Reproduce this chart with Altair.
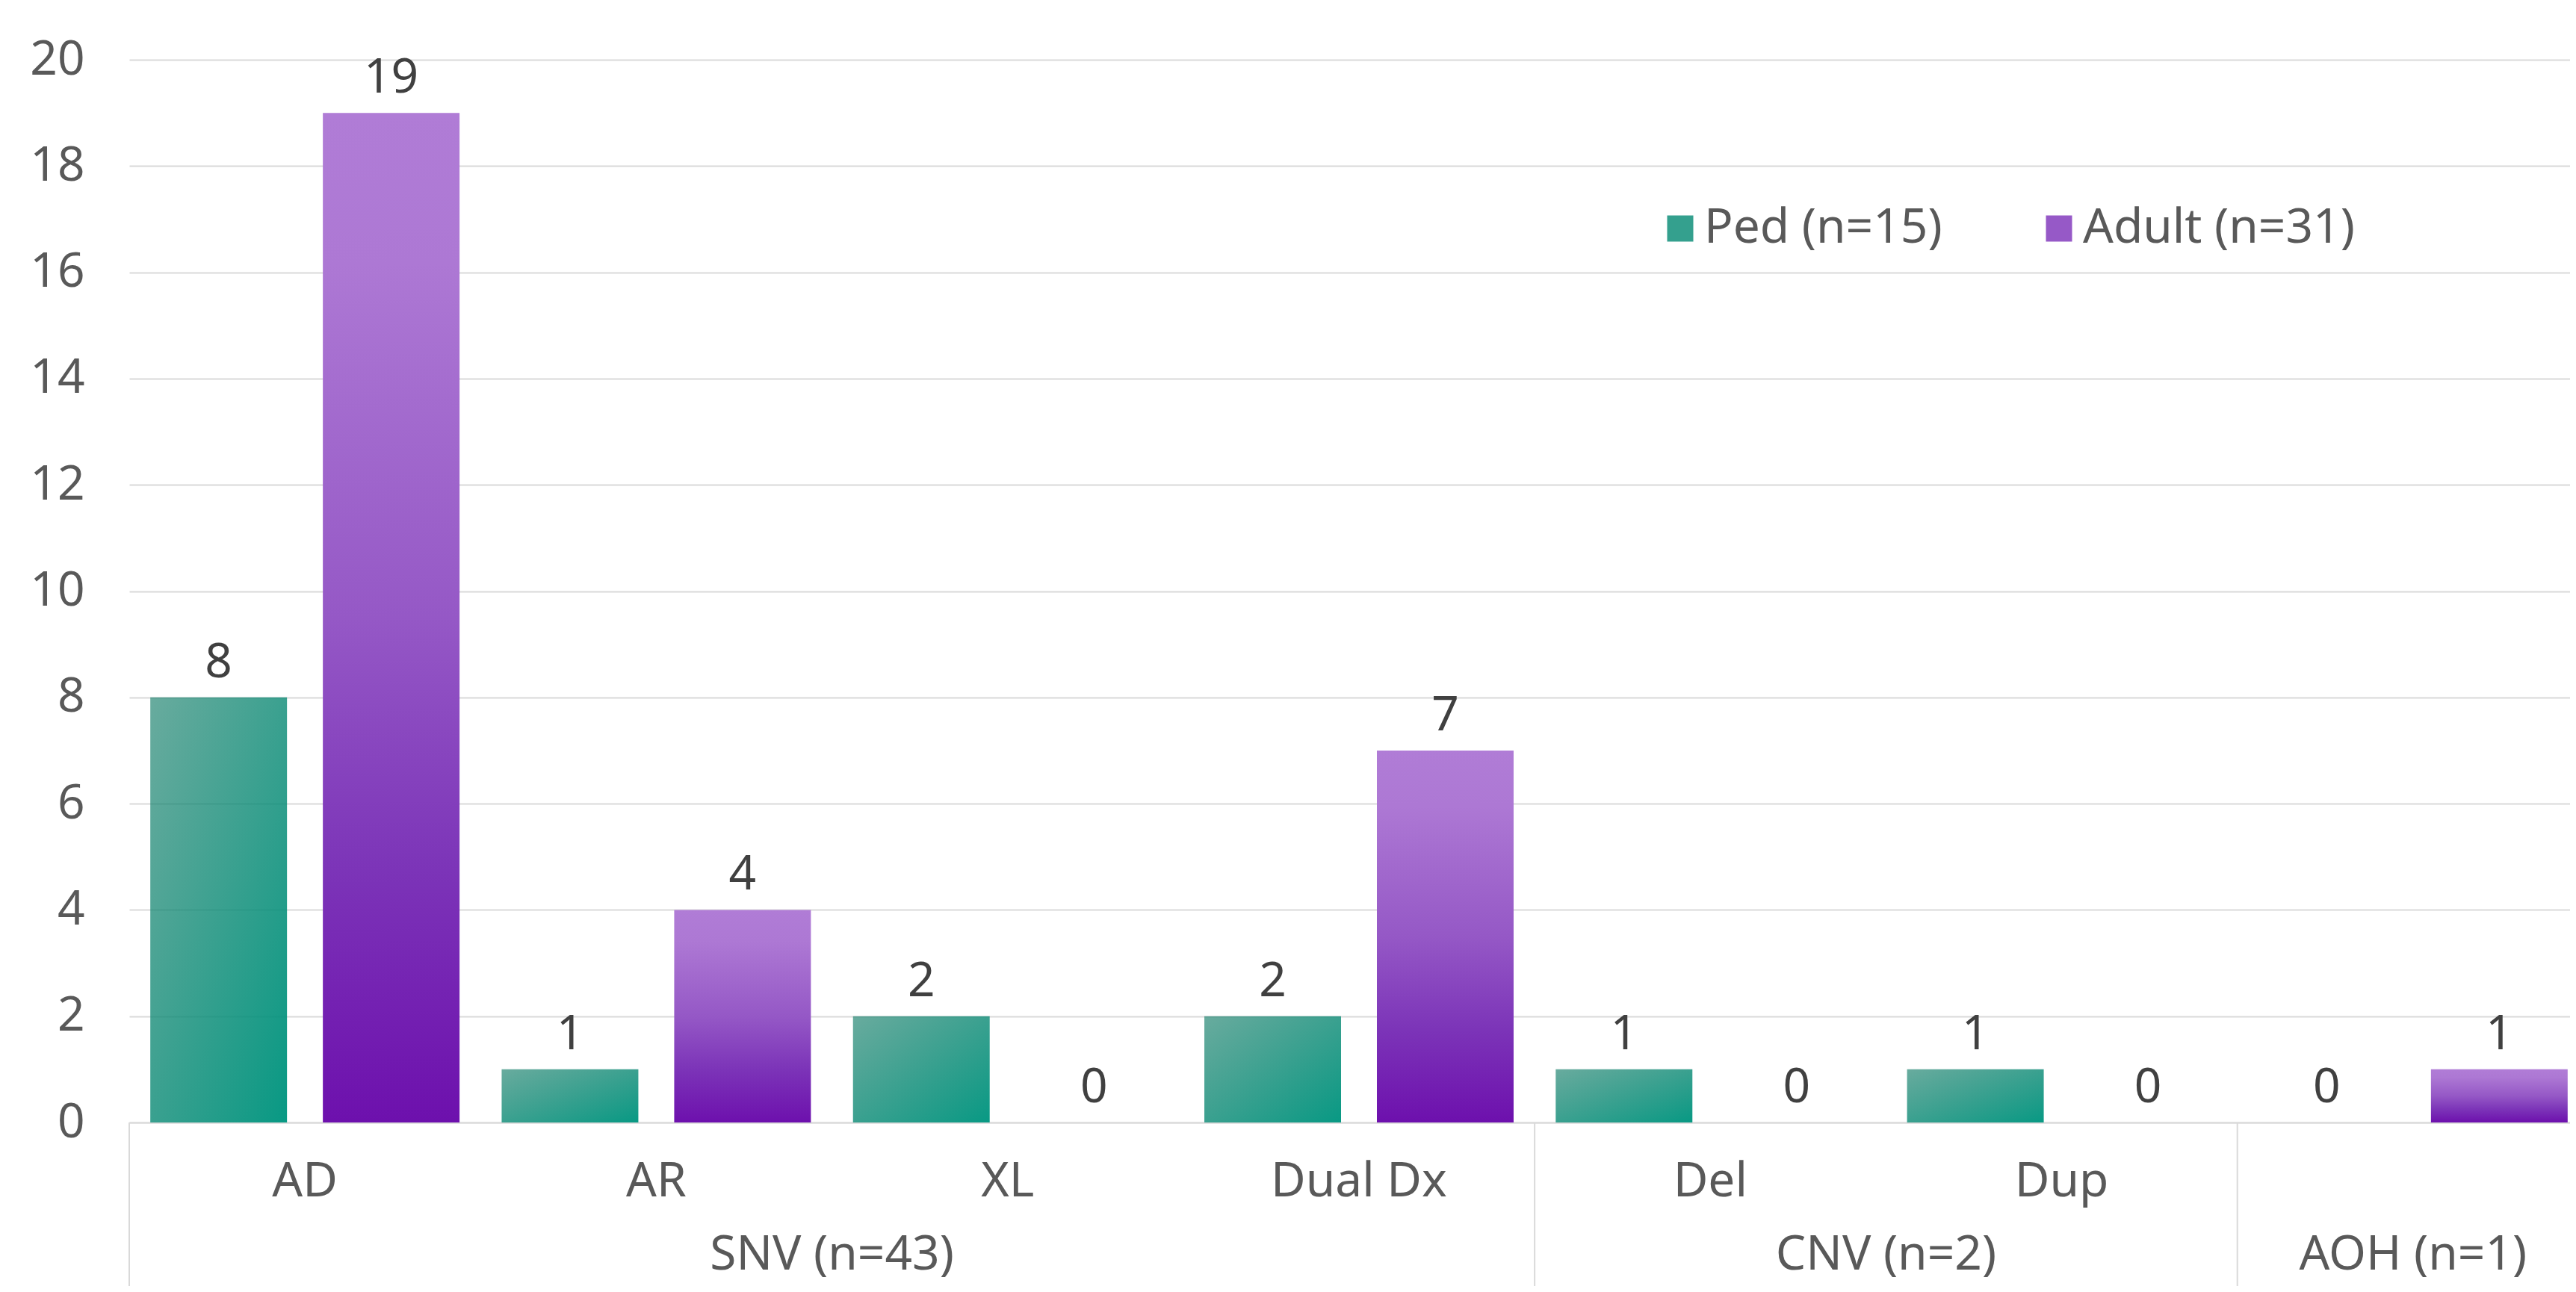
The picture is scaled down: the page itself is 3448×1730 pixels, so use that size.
import altair as alt
import pandas as pd

# ---------------- data ----------------
categories = ["AD", "AR", "XL", "Dual Dx", "Del", "Dup", "AOH"]
ped_values = [8, 1, 2, 2, 1, 1, 0]
adult_values = [19, 4, 0, 7, 0, 0, 1]
series_names = ["Ped (n=15)", "Adult (n=31)"]
group_names = ["SNV (n=43)", "CNV (n=2)", "AOH (n=1)"]
group_members = [["AD", "AR", "XL", "Dual Dx"], ["Del", "Dup"], ["AOH"]]
blank_label_categories = ["AOH"]
y_ticks = [0, 2, 4, 6, 8, 10, 12, 14, 16, 18, 20]

rows = []
for c, p, a in zip(categories, ped_values, adult_values):
    rows.append({"cat": c, "series": series_names[0], "value": p})
    rows.append({"cat": c, "series": series_names[1], "value": a})
df = pd.DataFrame(rows)

even_groups = pd.DataFrame([
    {"cat": m[len(m) // 2 - 1], "label": g}
    for g, m in zip(group_names, group_members) if len(m) % 2 == 0
])
odd_groups = pd.DataFrame([
    {"cat": m[len(m) // 2], "label": g}
    for g, m in zip(group_names, group_members) if len(m) % 2 == 1
])
separators = pd.DataFrame([{"cat": m[0]} for m in group_members])

# ---------------- style ----------------
FONT = "Noto Sans"
AXIS_GREY = "#595959"
LABEL_DARK = "#404040"
LINE_GREY = "#d9d9d9"
FS = 64

PLOT_W = 3267
PLOT_H = 1423
BAND_RANGE = 3292

teal_grad = alt.Gradient(
    gradient="linear", x1=0, y1=0, x2=1, y2=1,
    stops=[alt.GradientStop(color="rgba(26,128,108,0.66)", offset=0),
           alt.GradientStop(color="rgba(0,150,128,0.97)", offset=1)],
)
purple_grad = alt.Gradient(
    gradient="linear", x1=0, y1=0, x2=0, y2=1,
    stops=[alt.GradientStop(color="#b07cd6", offset=0),
           alt.GradientStop(color="#ad78d4", offset=0.15),
           alt.GradientStop(color="#9558c6", offset=0.5),
           alt.GradientStop(color="#7c34b8", offset=0.75),
           alt.GradientStop(color="#6d10ad", offset=1)],
)

x_scale = alt.Scale(domain=categories, range=[0, BAND_RANGE], paddingInner=0, paddingOuter=0)
y_scale = alt.Scale(domain=[0, 20], nice=False)
off_scale = alt.Scale(domain=series_names, paddingInner=0.2078, paddingOuter=0.122)

blank_expr = " || ".join([f"datum.value == '{b}'" for b in blank_label_categories])

x_axis = alt.Axis(
    title=None, labelAngle=0, ticks=False, tickSize=0, labelPadding=79,
    labelBaseline="middle", labelFontSize=FS, labelFont=FONT, labelColor=AXIS_GREY,
    domainColor=LINE_GREY, domainWidth=2, grid=False, labelLimit=1000,
    labelOverlap=False, labelExpr=f"({blank_expr}) ? '' : datum.value",
)
y_axis = alt.Axis(
    title=None, values=y_ticks, grid=True, gridColor=LINE_GREY, gridWidth=2,
    domain=False, ticks=False, tickSize=0, labelPadding=60, labelFontSize=FS,
    labelFont=FONT, labelColor=AXIS_GREY,
)


def xenc(band=None):
    if band is None:
        return alt.X("cat:N", scale=x_scale, sort=categories, axis=x_axis, title=None)
    return alt.X("cat:N", scale=x_scale, sort=categories, axis=x_axis, title=None, bandPosition=band)


yenc = alt.Y("value:Q", scale=y_scale, axis=y_axis, title=None)
offenc = alt.XOffset("series:N", scale=off_scale, sort=series_names)

base = alt.Chart(df)

ped_bars = base.transform_filter(alt.datum.series == series_names[0]).mark_bar(fill=teal_grad).encode(
    x=xenc(), xOffset=offenc, y=yenc,
)
adult_bars = base.transform_filter(alt.datum.series == series_names[1]).mark_bar(fill=purple_grad).encode(
    x=xenc(), xOffset=offenc, y=yenc,
)

legend_layer = base.transform_calculate(zero="0").mark_bar().encode(
    x=xenc(),
    y=alt.Y("zero:Q", scale=y_scale, axis=y_axis, title=None),
    color=alt.Color(
        "series:N",
        scale=alt.Scale(domain=series_names, range=["#34a08e", "#9659c7"]),
        legend=alt.Legend(
            title=None, orient="none", legendX=2044, legendY=194,
            direction="horizontal", symbolType="square", symbolSize=1225,
            symbolStrokeWidth=0, symbolOpacity=1, labelFontSize=FS, labelFont=FONT,
            labelColor=AXIS_GREY, labelOffset=0, columnPadding=124,
            padding=0, labelLimit=1000,
        ),
    ),
)

value_labels = base.mark_text(
    font=FONT, fontSize=FS, color=LABEL_DARK, baseline="alphabetic", align="center", dy=-27
).encode(
    x=xenc(), xOffset=offenc, y=yenc, text=alt.Text("value:Q"),
)

sep_rules = alt.Chart(separators).mark_rule(color=LINE_GREY, strokeWidth=2).encode(
    x=xenc(0),
    y=alt.value(PLOT_H),
    y2=alt.value(PLOT_H + 300),
)

group_even = alt.Chart(even_groups).mark_text(
    font=FONT, fontSize=FS, color=AXIS_GREY, baseline="alphabetic", align="center"
).encode(
    x=xenc(1),
    y=alt.value(PLOT_H + 197),
    text="label:N",
)
group_odd = alt.Chart(odd_groups).mark_text(
    font=FONT, fontSize=FS, color=AXIS_GREY, baseline="alphabetic", align="center"
).encode(
    x=xenc(0.5),
    y=alt.value(PLOT_H + 197),
    text="label:N",
)

chart = alt.layer(
    ped_bars, adult_bars, legend_layer, value_labels, sep_rules, group_even, group_odd
).properties(
    width=PLOT_W, height=PLOT_H,
    autosize=alt.AutoSizeParams(type="none"),
    padding={"left": 165, "top": 72, "right": 0, "bottom": 219},
    background="white",
).configure_view(stroke=None)

chart.save("out.html", embed_options={"renderer": "svg", "actions": False})
